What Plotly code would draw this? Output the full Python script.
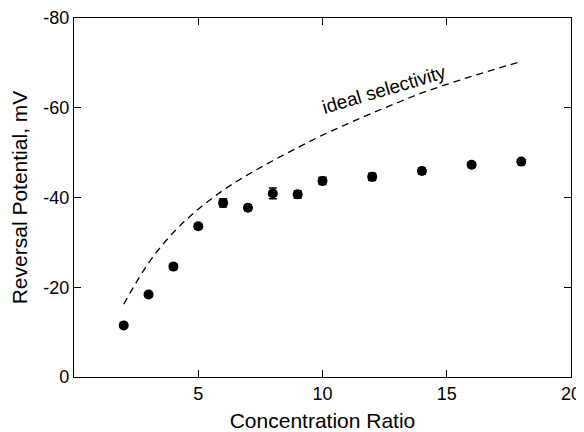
import plotly.graph_objects as go

# Measured data
ratio = [2, 3, 4, 5, 6, 7, 8, 9, 10, 12, 14, 16, 18]
potential = [-11.5, -18.4, -24.6, -33.6, -38.8, -37.7, -40.9, -40.7, -43.7, -44.6, -45.9, -47.3, -48.0]
err = [0.4, 0.5, 0.6, 0.6, 0.9, 0.6, 1.2, 0.8, 0.8, 0.8, 0.7, 0.5, 0.4]

# Ideal selectivity curve
ideal_x = [2, 3, 4, 5, 6, 7, 8, 9, 10, 11, 12, 13, 14, 15, 16, 17, 18]
ideal_y = [-16.2, -25.4, -32.2, -37.4, -41.6, -45.1, -48.2, -51.1, -53.9, -56.4, -58.8, -61.1, -63.3, -65.2, -67.0, -68.7, -70.3]

x_ticks = [5, 10, 15, 20]
y_ticks = [-80, -60, -40, -20, 0]
y_ticktext = ["-80", "-60", "-40", "-20", "0"]

font_family = "Arial, Liberation Sans, sans-serif"

fig = go.Figure()
fig.add_trace(go.Scatter(
    x=ideal_x, y=ideal_y, mode="lines",
    line=dict(color="black", width=1.3, dash="7px,5px", shape="spline", smoothing=1.0),
    showlegend=False, hoverinfo="skip"))
fig.add_trace(go.Scatter(
    x=ratio, y=potential, mode="markers",
    marker=dict(color="black", size=10),
    error_y=dict(type="data", array=err, visible=True, color="black", thickness=1.5, width=4),
    showlegend=False))

fig.add_annotation(
    x=12.48, y=-64.0, xref="x", yref="y",
    text="ideal selectivity", showarrow=False, textangle=-16.5,
    font=dict(family=font_family, size=19, color="black"))

axis_common = dict(
    showline=True, linecolor="black", linewidth=1.2, mirror="allticks",
    ticks="inside", ticklen=7, tickwidth=1.2, tickcolor="black",
    showgrid=False, zeroline=False, automargin=False,
    tickfont=dict(family=font_family, size=18, color="black"),
)

# page body adds ~8px offset; figure sized to fill the remaining window
fig.update_layout(
    width=576, height=424,
    margin=dict(l=66, r=13, t=10, b=55),
    plot_bgcolor="white", paper_bgcolor="white",
    font=dict(family=font_family, color="black"),
    xaxis=dict(range=[0, 20], tickvals=x_ticks,
               title=dict(text="Concentration Ratio", font=dict(family=font_family, size=21), standoff=13),
               **axis_common),
    yaxis=dict(range=[0, -80], tickvals=y_ticks, ticktext=y_ticktext,
               title=dict(text="Reversal Potential, mV", font=dict(family=font_family, size=21), standoff=10),
               **axis_common),
)

fig.write_html("out.html")
